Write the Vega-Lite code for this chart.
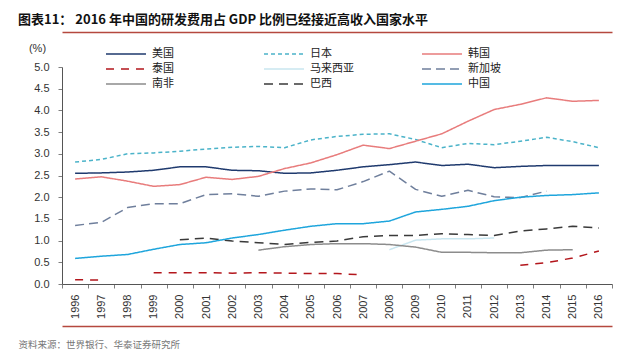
{
  "$schema": "https://vega.github.io/schema/vega-lite/v6.json",
  "width": 550,
  "height": 217,
  "autosize": {"type": "none"},
  "padding": {"left": 62, "top": 67, "right": 28, "bottom": 77},
  "background": "white",
  "title": {
    "text": "图表11：  2016 年中国的研发费用占 GDP 比例已经接近高收入国家水平",
    "anchor": "start",
    "frame": "group",
    "dx": -44,
    "offset": 5,
    "font": "Noto Sans CJK SC",
    "fontSize": 13,
    "fontWeight": "bold",
    "color": "#111"
  },
  "config": {
    "view": {"stroke": null},
    "axis": {"grid": false, "labelFont": "Liberation Sans", "labelColor": "#333", "labelFontSize": 11, "domainColor": "#7f7f7f", "tickColor": "#7f7f7f"}
  },
  "data": {
    "values": [
      {"c":"美国","y":1996,"v":2.55,"s":1},{"c":"美国","y":1997,"v":2.56,"s":1},{"c":"美国","y":1998,"v":2.58,"s":1},{"c":"美国","y":1999,"v":2.62,"s":1},{"c":"美国","y":2000,"v":2.70,"s":1},{"c":"美国","y":2001,"v":2.70,"s":1},{"c":"美国","y":2002,"v":2.62,"s":1},{"c":"美国","y":2003,"v":2.61,"s":1},{"c":"美国","y":2004,"v":2.55,"s":1},{"c":"美国","y":2005,"v":2.56,"s":1},{"c":"美国","y":2006,"v":2.62,"s":1},{"c":"美国","y":2007,"v":2.70,"s":1},{"c":"美国","y":2008,"v":2.75,"s":1},{"c":"美国","y":2009,"v":2.81,"s":1},{"c":"美国","y":2010,"v":2.73,"s":1},{"c":"美国","y":2011,"v":2.76,"s":1},{"c":"美国","y":2012,"v":2.68,"s":1},{"c":"美国","y":2013,"v":2.71,"s":1},{"c":"美国","y":2014,"v":2.73,"s":1},{"c":"美国","y":2015,"v":2.73,"s":1},{"c":"美国","y":2016,"v":2.73,"s":1},
      {"c":"日本","y":1996,"v":2.81,"s":1},{"c":"日本","y":1997,"v":2.87,"s":1},{"c":"日本","y":1998,"v":3.00,"s":1},{"c":"日本","y":1999,"v":3.02,"s":1},{"c":"日本","y":2000,"v":3.06,"s":1},{"c":"日本","y":2001,"v":3.11,"s":1},{"c":"日本","y":2002,"v":3.15,"s":1},{"c":"日本","y":2003,"v":3.17,"s":1},{"c":"日本","y":2004,"v":3.14,"s":1},{"c":"日本","y":2005,"v":3.32,"s":1},{"c":"日本","y":2006,"v":3.40,"s":1},{"c":"日本","y":2007,"v":3.45,"s":1},{"c":"日本","y":2008,"v":3.46,"s":1},{"c":"日本","y":2009,"v":3.33,"s":1},{"c":"日本","y":2010,"v":3.14,"s":1},{"c":"日本","y":2011,"v":3.24,"s":1},{"c":"日本","y":2012,"v":3.21,"s":1},{"c":"日本","y":2013,"v":3.29,"s":1},{"c":"日本","y":2014,"v":3.38,"s":1},{"c":"日本","y":2015,"v":3.28,"s":1},{"c":"日本","y":2016,"v":3.14,"s":1},
      {"c":"韩国","y":1996,"v":2.42,"s":1},{"c":"韩国","y":1997,"v":2.47,"s":1},{"c":"韩国","y":1998,"v":2.37,"s":1},{"c":"韩国","y":1999,"v":2.25,"s":1},{"c":"韩国","y":2000,"v":2.29,"s":1},{"c":"韩国","y":2001,"v":2.46,"s":1},{"c":"韩国","y":2002,"v":2.41,"s":1},{"c":"韩国","y":2003,"v":2.48,"s":1},{"c":"韩国","y":2004,"v":2.66,"s":1},{"c":"韩国","y":2005,"v":2.79,"s":1},{"c":"韩国","y":2006,"v":2.98,"s":1},{"c":"韩国","y":2007,"v":3.20,"s":1},{"c":"韩国","y":2008,"v":3.12,"s":1},{"c":"韩国","y":2009,"v":3.29,"s":1},{"c":"韩国","y":2010,"v":3.46,"s":1},{"c":"韩国","y":2011,"v":3.75,"s":1},{"c":"韩国","y":2012,"v":4.02,"s":1},{"c":"韩国","y":2013,"v":4.14,"s":1},{"c":"韩国","y":2014,"v":4.29,"s":1},{"c":"韩国","y":2015,"v":4.21,"s":1},{"c":"韩国","y":2016,"v":4.23,"s":1},
      {"c":"泰国","y":1996,"v":0.10,"s":1},{"c":"泰国","y":1997,"v":0.09,"s":1},
      {"c":"泰国","y":1999,"v":0.26,"s":2},{"c":"泰国","y":2000,"v":0.26,"s":2},{"c":"泰国","y":2001,"v":0.26,"s":2},{"c":"泰国","y":2002,"v":0.25,"s":2},{"c":"泰国","y":2003,"v":0.26,"s":2},{"c":"泰国","y":2004,"v":0.25,"s":2},{"c":"泰国","y":2005,"v":0.24,"s":2},{"c":"泰国","y":2006,"v":0.24,"s":2},{"c":"泰国","y":2007,"v":0.21,"s":2},
      {"c":"泰国","y":2013,"v":0.43,"s":3},{"c":"泰国","y":2014,"v":0.49,"s":3},{"c":"泰国","y":2015,"v":0.60,"s":3},{"c":"泰国","y":2016,"v":0.76,"s":3},
      {"c":"马来西亚","y":2008,"v":0.79,"s":1},{"c":"马来西亚","y":2009,"v":1.01,"s":1},{"c":"马来西亚","y":2010,"v":1.04,"s":1},{"c":"马来西亚","y":2011,"v":1.04,"s":1},{"c":"马来西亚","y":2012,"v":1.06,"s":1},
      {"c":"新加坡","y":1996,"v":1.35,"s":1},{"c":"新加坡","y":1997,"v":1.42,"s":1},{"c":"新加坡","y":1998,"v":1.76,"s":1},{"c":"新加坡","y":1999,"v":1.85,"s":1},{"c":"新加坡","y":2000,"v":1.85,"s":1},{"c":"新加坡","y":2001,"v":2.06,"s":1},{"c":"新加坡","y":2002,"v":2.08,"s":1},{"c":"新加坡","y":2003,"v":2.02,"s":1},{"c":"新加坡","y":2004,"v":2.14,"s":1},{"c":"新加坡","y":2005,"v":2.19,"s":1},{"c":"新加坡","y":2006,"v":2.17,"s":1},{"c":"新加坡","y":2007,"v":2.36,"s":1},{"c":"新加坡","y":2008,"v":2.60,"s":1},{"c":"新加坡","y":2009,"v":2.18,"s":1},{"c":"新加坡","y":2010,"v":2.02,"s":1},{"c":"新加坡","y":2011,"v":2.16,"s":1},{"c":"新加坡","y":2012,"v":2.01,"s":1},{"c":"新加坡","y":2013,"v":1.99,"s":1},{"c":"新加坡","y":2014,"v":2.14,"s":1},
      {"c":"南非","y":2003,"v":0.78,"s":1},{"c":"南非","y":2004,"v":0.86,"s":1},{"c":"南非","y":2005,"v":0.91,"s":1},{"c":"南非","y":2006,"v":0.93,"s":1},{"c":"南非","y":2007,"v":0.93,"s":1},{"c":"南非","y":2008,"v":0.91,"s":1},{"c":"南非","y":2009,"v":0.85,"s":1},{"c":"南非","y":2010,"v":0.73,"s":1},{"c":"南非","y":2011,"v":0.73,"s":1},{"c":"南非","y":2012,"v":0.72,"s":1},{"c":"南非","y":2013,"v":0.72,"s":1},{"c":"南非","y":2014,"v":0.78,"s":1},{"c":"南非","y":2015,"v":0.79,"s":1},
      {"c":"巴西","y":2000,"v":1.02,"s":1},{"c":"巴西","y":2001,"v":1.06,"s":1},{"c":"巴西","y":2002,"v":0.99,"s":1},{"c":"巴西","y":2003,"v":0.95,"s":1},{"c":"巴西","y":2004,"v":0.91,"s":1},{"c":"巴西","y":2005,"v":0.96,"s":1},{"c":"巴西","y":2006,"v":0.99,"s":1},{"c":"巴西","y":2007,"v":1.09,"s":1},{"c":"巴西","y":2008,"v":1.12,"s":1},{"c":"巴西","y":2009,"v":1.12,"s":1},{"c":"巴西","y":2010,"v":1.16,"s":1},{"c":"巴西","y":2011,"v":1.14,"s":1},{"c":"巴西","y":2012,"v":1.12,"s":1},{"c":"巴西","y":2013,"v":1.22,"s":1},{"c":"巴西","y":2014,"v":1.27,"s":1},{"c":"巴西","y":2015,"v":1.33,"s":1},{"c":"巴西","y":2016,"v":1.29,"s":1},
      {"c":"中国","y":1996,"v":0.59,"s":1},{"c":"中国","y":1997,"v":0.64,"s":1},{"c":"中国","y":1998,"v":0.68,"s":1},{"c":"中国","y":1999,"v":0.80,"s":1},{"c":"中国","y":2000,"v":0.91,"s":1},{"c":"中国","y":2001,"v":0.95,"s":1},{"c":"中国","y":2002,"v":1.06,"s":1},{"c":"中国","y":2003,"v":1.14,"s":1},{"c":"中国","y":2004,"v":1.24,"s":1},{"c":"中国","y":2005,"v":1.33,"s":1},{"c":"中国","y":2006,"v":1.39,"s":1},{"c":"中国","y":2007,"v":1.39,"s":1},{"c":"中国","y":2008,"v":1.45,"s":1},{"c":"中国","y":2009,"v":1.66,"s":1},{"c":"中国","y":2010,"v":1.72,"s":1},{"c":"中国","y":2011,"v":1.79,"s":1},{"c":"中国","y":2012,"v":1.92,"s":1},{"c":"中国","y":2013,"v":2.00,"s":1},{"c":"中国","y":2014,"v":2.04,"s":1},{"c":"中国","y":2015,"v":2.06,"s":1},{"c":"中国","y":2016,"v":2.10,"s":1}
    ]
  },
  "resolve": {"axis": {"x": "independent"}},
  "layer": [
    {
      "mark": {"type": "line", "strokeJoin": "round"},
      "encoding": {
        "x": {"field": "y", "type": "ordinal", "scale": {"type": "band", "paddingInner": 0, "paddingOuter": 0},
              "axis": {"orient": "bottom", "title": null, "labelAngle": -90, "labelAlign": "right", "labelBaseline": "middle", "tickBand": "extent", "tickSize": 4, "labelPadding": 6, "domainColor": "#555"}},
        "y": {"field": "v", "type": "quantitative", "scale": {"domain": [0, 5], "nice": false, "zero": true},
              "axis": {"values": [0,0.5,1,1.5,2,2.5,3,3.5,4,4.5,5], "format": ".1f", "tickSize": 4, "labelPadding": 9, "domainColor": "#555",
                       "title": "(%)", "titleAngle": 0, "titleX": -25, "titleY": -19, "titleAlign": "center", "titleBaseline": "middle", "titleFont": "Liberation Sans", "titleFontSize": 11, "titleFontWeight": "normal", "titleColor": "#333"}},
        "color": {"field": "c", "type": "nominal",
                  "scale": {"domain": ["美国","日本","韩国","泰国","马来西亚","新加坡","南非","巴西","中国"],
                            "range": ["#1f3a6e","#4bb3c9","#e87c7c","#b3161c","#c9e6f0","#6f7f9c","#8c8c8c","#3a3a3a","#1ea5dc"]},
                  "legend": {"orient": "none", "legendX": 56, "legendY": -21, "columns": 3, "direction": "horizontal", "title": null,
                             "symbolType": "M-2.857,0H2.857", "symbolSize": 196, "gridAlign": "all", "columnPadding": 65, "rowPadding": 2, "labelOffset": 18,
                             "labelFont": "Noto Sans CJK SC", "labelFontSize": 11, "labelColor": "#222"}},
        "strokeDash": {"field": "c", "type": "nominal",
                       "scale": {"domain": ["美国","日本","韩国","泰国","马来西亚","新加坡","南非","巴西","中国"],
                                 "range": [[1,0],[4,3],[1,0],[8,7],[1,0],[9,5],[1,0],[9,6],[1,0]]}},
        "strokeWidth": {"field": "c", "type": "nominal",
                        "scale": {"domain": ["美国","日本","韩国","泰国","马来西亚","新加坡","南非","巴西","中国"],
                                  "range": [1.5,1.5,2.2,2.5,3,3.5,4,4.5,5.5]}},
        "detail": {"field": "s", "type": "nominal"}
      }
    },
    {
      "mark": {"type": "point", "opacity": 0, "size": 0},
      "encoding": {
        "x": {"field": "y", "type": "ordinal", "axis": {"orient": "top", "offset": 35, "labels": false, "ticks": false, "title": null, "domainColor": "#b5483e", "domainWidth": 1.5}}
      }
    },
    {
      "mark": {"type": "point", "opacity": 0, "size": 0},
      "encoding": {
        "x": {"field": "y", "type": "ordinal", "axis": {"orient": "bottom", "offset": 42, "labels": false, "ticks": false, "domainColor": "#b5483e", "domainWidth": 1.5,
               "title": "资料来源：世界银行、华泰证券研究所", "titleAnchor": "start", "titleAlign": "left", "titleX": -44, "titleY": 21, "titleBaseline": "alphabetic", "titleFont": "Noto Sans CJK SC", "titleFontSize": 9.5, "titleFontWeight": "normal", "titleColor": "#777"}}
      }
    }
  ]
}
